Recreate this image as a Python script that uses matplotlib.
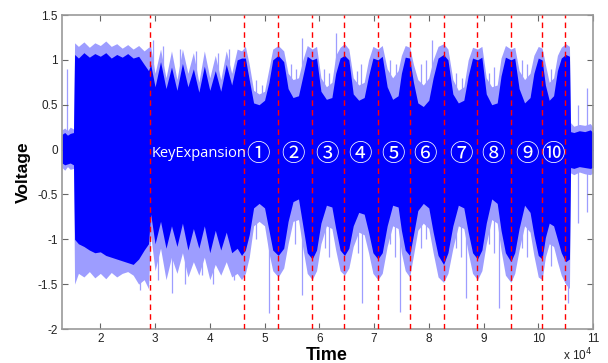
import numpy as np
import matplotlib
matplotlib.use("Agg")
import matplotlib.pyplot as plt

plt.rcParams['axes.unicode_minus'] = False

# time axis in units of 1e4 samples, envelopes of the power trace
t = [1.30, 1.35, 1.40, 1.45, 1.51,
     1.53, 1.60, 1.70, 1.80, 1.90, 2.00, 2.10, 2.20, 2.30, 2.40, 2.50, 2.60, 2.70, 2.80, 2.88,
     2.92, 3.00, 3.10, 3.20, 3.30, 3.40, 3.50, 3.60, 3.70, 3.80, 3.90, 4.00, 4.10, 4.20, 4.30, 4.40, 4.50, 4.58,
     4.65, 4.72, 4.80, 4.90, 5.00, 5.08,
     5.15, 5.25, 5.35,
     5.43, 5.52, 5.62, 5.70,
     5.78, 5.87, 5.95,
     6.03, 6.13, 6.23, 6.30,
     6.38, 6.46, 6.54,
     6.62, 6.72, 6.82, 6.90,
     6.98, 7.07, 7.15,
     7.24, 7.34, 7.44, 7.50,
     7.57, 7.65,
     7.72, 7.80, 7.90, 8.00, 8.08,
     8.17, 8.27, 8.35,
     8.44, 8.54, 8.64, 8.72,
     8.80, 8.89, 8.97,
     9.05, 9.15, 9.25, 9.32,
     9.40, 9.50, 9.57,
     9.65, 9.75, 9.85, 9.92,
     10.00, 10.07,
     10.13, 10.20, 10.28, 10.35,
     10.42, 10.50, 10.57,
     10.59, 10.65, 10.75, 10.85, 10.95, 11.00]

# outer (light) upper envelope
top_hi = [0.22, 0.24, 0.21, 0.25, 0.23,
          1.19, 1.15, 1.20, 1.14, 1.19, 1.16, 1.21, 1.15, 1.18, 1.13, 1.17, 1.12, 1.16, 1.10, 1.14,
          1.15, 0.85, 1.12, 0.80, 1.10, 0.78, 1.12, 0.85, 1.08, 0.75, 1.10, 0.80, 1.05, 0.78, 1.10, 0.85, 1.12, 1.10,
          1.15, 0.95, 0.66, 0.62, 0.65, 0.90,
          1.12, 1.16, 1.10,
          0.85, 0.78, 0.80, 1.00,
          1.16, 1.12, 1.15,
          0.80, 0.70, 0.75, 1.05,
          1.14, 1.18, 1.12,
          0.80, 0.72, 0.75, 1.00,
          1.15, 1.12, 1.16,
          0.90, 0.80, 0.88, 1.05,
          1.16, 1.14,
          0.95, 0.78, 0.72, 0.80, 1.00,
          1.15, 1.18, 1.12,
          0.78, 0.66, 0.70, 1.00,
          1.14, 1.12, 1.15,
          0.80, 0.70, 0.72, 1.02,
          1.16, 1.12, 1.14,
          0.88, 0.78, 0.85, 1.05,
          1.15, 1.13,
          0.95, 0.75, 0.80, 1.05,
          1.14, 1.18, 1.15,
          0.30, 0.26, 0.28, 0.27, 0.29, 0.25]

# dense (dark) upper envelope
top_lo = [0.17, 0.19, 0.16, 0.18, 0.19,
          1.06, 1.02, 1.08, 1.03, 1.07, 1.04, 1.08, 1.02, 1.06, 1.03, 1.07, 1.02, 1.04, 0.95, 0.88,
          0.95, 0.70, 0.98, 0.68, 0.92, 0.66, 0.96, 0.70, 0.90, 0.64, 0.93, 0.66, 0.88, 0.65, 0.95, 0.72, 1.00, 1.02,
          1.02, 0.78, 0.52, 0.50, 0.55, 0.75,
          1.00, 1.05, 0.98,
          0.68, 0.58, 0.60, 0.82,
          1.04, 1.00, 1.02,
          0.65, 0.56, 0.58, 0.85,
          1.02, 1.05, 1.00,
          0.62, 0.55, 0.58, 0.82,
          1.02, 1.00, 1.04,
          0.70, 0.56, 0.60, 0.85,
          1.03, 1.02,
          0.75, 0.52, 0.48, 0.55, 0.80,
          1.02, 1.06, 1.00,
          0.62, 0.52, 0.55, 0.82,
          1.02, 1.00, 1.03,
          0.62, 0.50, 0.52, 0.82,
          1.03, 1.00, 1.02,
          0.68, 0.52, 0.58, 0.85,
          1.02, 1.00,
          0.72, 0.55, 0.60, 0.88,
          1.02, 1.06, 1.04,
          0.20, 0.19, 0.21, 0.20, 0.22, 0.19]

# dense (dark) lower envelope
bot_lo = [-0.15, -0.17, -0.16, -0.15, -0.17,
          -1.00, -1.05, -1.08, -1.12, -1.15, -1.14, -1.18, -1.20, -1.22, -1.24, -1.26, -1.28, -1.22, -1.12, -1.05,
          -0.72, -1.05, -0.80, -1.10, -0.85, -1.08, -0.82, -1.12, -0.88, -1.10, -0.85, -1.15, -0.90, -1.12, -0.92, -1.15, -1.10, -1.18,
          -1.12, -0.95, -0.65, -0.60, -0.65, -0.90,
          -1.12, -1.18, -1.10,
          -0.80, -0.58, -0.55, -0.85,
          -1.15, -1.22, -1.12,
          -0.82, -0.62, -0.64, -0.88,
          -1.12, -1.18, -1.10,
          -0.85, -0.70, -0.72, -0.92,
          -1.15, -1.22, -1.15,
          -0.85, -0.62, -0.64, -0.90,
          -1.12, -1.18,
          -0.95, -0.68, -0.60, -0.65, -0.92,
          -1.18, -1.28, -1.15,
          -0.85, -0.62, -0.65, -0.92,
          -1.15, -1.22, -1.12,
          -0.82, -0.55, -0.60, -0.90,
          -1.15, -1.25, -1.15,
          -0.88, -0.62, -0.70, -0.95,
          -1.18, -1.22,
          -0.98, -0.82, -0.85, -1.00,
          -1.15, -1.25, -1.22,
          -0.20, -0.21, -0.19, -0.20, -0.21, -0.20]

# outer (light) lower envelope
bot_hi = [-0.20, -0.23, -0.19, -0.22, -0.21,
          -1.50, -1.38, -1.42, -1.36, -1.43, -1.38, -1.44, -1.37, -1.42, -1.38, -1.36, -1.40, -1.50, -1.45, -1.55,
          -0.95, -1.35, -1.10, -1.45, -1.20, -1.38, -1.15, -1.42, -1.25, -1.40, -1.20, -1.45, -1.28, -1.40, -1.25, -1.42, -1.38, -1.45,
          -1.38, -1.20, -0.85, -0.80, -0.85, -1.15,
          -1.35, -1.42, -1.32,
          -1.05, -0.80, -0.78, -1.10,
          -1.38, -1.45, -1.35,
          -1.05, -0.85, -0.88, -1.12,
          -1.35, -1.40, -1.32,
          -1.08, -0.92, -0.95, -1.15,
          -1.38, -1.45, -1.38,
          -1.08, -0.85, -0.88, -1.15,
          -1.35, -1.42,
          -1.18, -0.90, -0.82, -0.88, -1.15,
          -1.42, -1.48, -1.38,
          -1.10, -0.85, -0.88, -1.15,
          -1.38, -1.45, -1.35,
          -1.05, -0.78, -0.82, -1.12,
          -1.40, -1.48, -1.38,
          -1.12, -0.85, -0.92, -1.18,
          -1.42, -1.45,
          -1.20, -1.05, -1.08, -1.25,
          -1.40, -1.50, -1.55,
          -0.26, -0.28, -0.25, -0.27, -0.28, -0.26]

# single isolated spikes
spike_up_x = [1.39, 2.96, 3.15, 3.45, 3.75, 4.15, 4.35,
              4.85, 4.95, 5.48, 5.58, 5.68, 6.08, 6.18, 6.30, 6.68, 6.77,
              7.30, 7.40, 7.85, 7.95, 8.05, 8.50, 8.60, 9.10, 9.20,
              9.70, 9.80, 10.24, 10.73, 10.89]
spike_up_v = [0.90, 1.22, 1.15, 1.12, 1.10, 1.08, 1.12,
              0.78, 0.72, 0.95, 0.90, 1.24, 0.90, 0.85, 1.30, 0.88, 0.95,
              1.00, 0.95, 0.95, 1.00, 1.22, 0.85, 0.80, 0.85, 0.92,
              1.00, 0.95, 0.90, 0.50, 0.69]
spike_dn_x = [2.72, 3.05, 3.31, 3.55, 3.85, 4.05, 4.45,
              4.85, 5.08, 5.55, 5.68, 6.10, 6.18, 6.70, 6.78, 7.30, 7.38, 7.47,
              7.85, 7.95, 8.50, 8.58, 8.68, 9.10, 9.20, 9.28, 9.70, 9.80,
              10.24, 10.54, 10.73, 10.89]
spike_dn_v = [-1.57, -1.45, -1.60, -1.50, -1.40, -1.50, -1.45,
              -1.00, -1.82, -1.05, -1.62, -1.10, -1.20, -1.15, -1.71, -1.05, -1.20, -1.81,
              -1.10, -1.00, -1.10, -1.20, -1.65, -1.05, -1.15, -1.77, -1.10, -1.20,
              -1.30, -1.71, -0.82, -0.70]

# round boundaries
bounds = [2.91, 4.62, 5.25, 5.87, 6.46, 7.07, 7.65, 8.27, 8.89, 9.50, 10.07, 10.48]
round_labels = ['①', '②', '③', '④', '⑤', '⑥', '⑦', '⑧', '⑨', '⑩']
round_label_x = [4.875, 5.525, 6.136, 6.744, 7.352, 7.931, 8.583, 9.179, 9.789, 10.275]

fig = plt.figure(figsize=(6.08, 3.63), dpi=100)
ax = fig.add_axes([62/608, 1 - 329/363, 531/608, 314/363])

light = '#9d9dff'
blue = '#0000ff'
ax.fill_between(t, bot_hi, top_hi, color=light, lw=0, zorder=1)
ax.vlines(spike_up_x, 0, spike_up_v, color=light, lw=0.9, zorder=1.5)
ax.vlines(spike_dn_x, spike_dn_v, 0, color=light, lw=0.9, zorder=1.5)
ax.fill_between(t, bot_lo, top_lo, color=blue, lw=0, zorder=2)

for b in bounds:
    ax.axvline(b, color='#ff0000', lw=1.0, ls=(0, (4, 3)), zorder=3)

ax.text(2.93, -0.04, 'KeyExpansion', color='white', fontsize=10.5,
        family='Open Sans', ha='left', va='center', zorder=4)
for lab, x in zip(round_labels, round_label_x):
    ax.text(x, -0.06, lab, color='white', fontsize=17,
            family=['Noto Sans CJK JP', 'DejaVu Sans'], ha='center', va='center', zorder=4)

ax.set_xlim(1.3, 11.0)
ax.set_ylim(-2, 1.5)
ax.set_xticks(range(2, 12))
ax.set_xticklabels([str(i) for i in range(2, 12)])
ax.set_yticks([-2, -1.5, -1, -0.5, 0, 0.5, 1, 1.5])
ax.set_yticklabels(['-2', '-1.5', '-1', '-0.5', '0', '0.5', '1', '1.5'])
ax.tick_params(direction='in', top=True, right=True, length=4, width=0.8,
               color='#666666', labelsize=8.5, labelcolor='#222222', pad=3)
for lab in ax.get_xticklabels() + ax.get_yticklabels():
    lab.set_family('Liberation Sans')
for s in ax.spines.values():
    s.set_color('#9a9a9a')
    s.set_linewidth(1.2)

fig.text(23/608, 1 - 172/363, 'Voltage', rotation=90, fontsize=12.5, fontweight='bold',
         family='Liberation Sans', ha='center', va='center')
fig.text(327/608, 1 - 355/363, 'Time', fontsize=13, fontweight='bold',
         family='Liberation Sans', ha='center', va='center')
fig.text(592/608, 1 - 355/363, 'x 10$^4$', fontsize=8.5, family='Liberation Sans',
         ha='right', va='center', color='#222222')

fig.savefig('out.png', dpi=100)
